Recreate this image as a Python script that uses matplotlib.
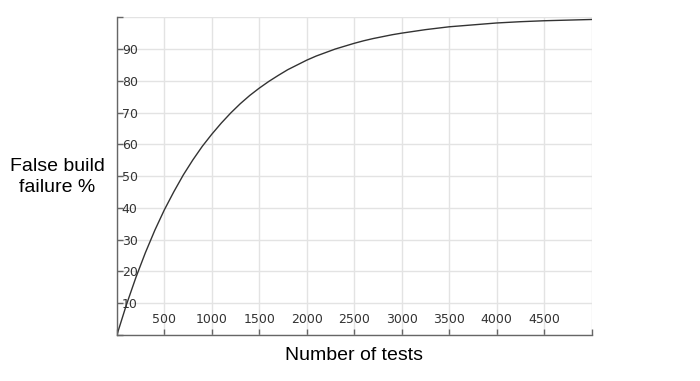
#! /usr/bin/env python3

import matplotlib
matplotlib.use("Agg")
import matplotlib.pyplot as plt

# values
tests = [0, 100, 200, 300, 400, 500, 600, 700, 800, 900, 1000,
         1100, 1200, 1300, 1400, 1500, 1600, 1700, 1800, 1900, 2000,
         2100, 2200, 2300, 2400, 2500, 2600, 2700, 2800, 2900, 3000,
         3250, 3500, 3750, 4000, 4250, 4500, 4750, 5000]
failure = [0, 9.5, 18.1, 25.9, 33.0, 39.4, 45.1, 50.4, 55.1, 59.4, 63.2,
           66.7, 69.9, 72.8, 75.4, 77.7, 79.8, 81.7, 83.5, 85.0, 86.5,
           87.8, 88.9, 90.0, 90.9, 91.8, 92.6, 93.3, 93.9, 94.5, 95.0,
           96.1, 97.0, 97.6, 98.2, 98.6, 98.9, 99.1, 99.3]

x_ticks = list(range(0, 5001, 500))
x_labels = [""] + [str(v) for v in range(500, 5000, 500)] + [""]
y_ticks = list(range(0, 101, 10))
y_labels = [""] + [str(v) for v in range(10, 100, 10)] + [""]

#----- plot -----#
fig = plt.figure(figsize=(7, 3.81), dpi=100)
ax = fig.add_axes([0.167, 0.1207, 0.678, 0.834])

ax.plot(tests, failure, color="#333333", lw=1.0)

ax.set_xlim(0, 5000)
ax.set_ylim(0, 100)
ax.set_xticks(x_ticks, labels=x_labels)
ax.set_yticks(y_ticks, labels=y_labels)
ax.grid(True, color="#e3e3e3", lw=1.0)
ax.set_axisbelow(True)

for s in ["top", "right"]:
	ax.spines[s].set_visible(False)
for s in ["left", "bottom"]:
	ax.spines[s].set_color("#666666")
	ax.spines[s].set_linewidth(1.0)

ax.tick_params(axis="y", direction="in", length=4, width=1, color="#666666",
               pad=-3.5, labelsize=9, labelcolor="#333333")
ax.tick_params(axis="x", direction="in", length=4, width=1, color="#666666",
               pad=-6.5, labelsize=9, labelcolor="#333333")
for t in ax.get_yticklabels():
	t.set_horizontalalignment("left")
for t in ax.get_xticklabels():
	t.set_verticalalignment("bottom")

fig.text(57 / 700, 1 - 177 / 381, "False build\nfailure %", ha="center", va="center",
         fontsize=14, family="Liberation Sans", linespacing=1.25)
fig.text(354 / 700, 1 - 355 / 381, "Number of tests", ha="center", va="center",
         fontsize=14, family="Liberation Sans")

fig.savefig("out.png", dpi=100)
